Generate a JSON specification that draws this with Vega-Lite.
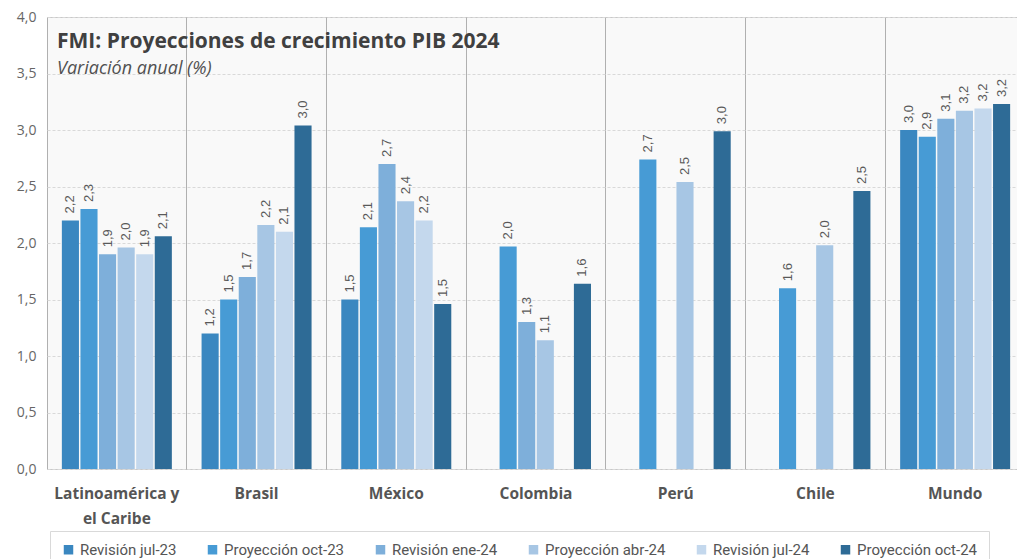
{
  "$schema": "https://vega.github.io/schema/vega-lite/v6.json",
  "width": 978,
  "height": 452,
  "autosize": {"type": "none"},
  "padding": {"left": 47, "top": 17, "right": -8, "bottom": 90},
  "background": "white",
  "title": {
    "text": "FMI: Proyecciones de crecimiento PIB 2024",
    "subtitle": "Variación anual (%)",
    "anchor": "start",
    "frame": "group",
    "orient": "top",
    "offset": -68,
    "dx": 10,
    "font": "Open Sans",
    "fontSize": 21,
    "fontWeight": "bold",
    "color": "#404040",
    "subtitleFont": "Open Sans",
    "subtitleFontSize": 18,
    "subtitleFontStyle": "italic",
    "subtitleColor": "#505050",
    "subtitlePadding": 8
  },
  "config": {
    "locale": {"number": {"decimal": ",", "thousands": ".", "grouping": [3], "currency": ["", " €"]}},
    "view": {"stroke": "#c8c8c8", "fill": "#f9f9f9"}
  },
  "data": {
    "values": [
      {"region": "Latinoamérica y el Caribe", "serie": "Revisión jul-23", "valor": 2.2},
      {"region": "Latinoamérica y el Caribe", "serie": "Proyección oct-23", "valor": 2.3},
      {"region": "Latinoamérica y el Caribe", "serie": "Revisión ene-24", "valor": 1.9},
      {"region": "Latinoamérica y el Caribe", "serie": "Proyección abr-24", "valor": 1.96},
      {"region": "Latinoamérica y el Caribe", "serie": "Revisión jul-24", "valor": 1.9},
      {"region": "Latinoamérica y el Caribe", "serie": "Proyección oct-24", "valor": 2.06},
      {"region": "Brasil", "serie": "Revisión jul-23", "valor": 1.2},
      {"region": "Brasil", "serie": "Proyección oct-23", "valor": 1.5},
      {"region": "Brasil", "serie": "Revisión ene-24", "valor": 1.7},
      {"region": "Brasil", "serie": "Proyección abr-24", "valor": 2.16},
      {"region": "Brasil", "serie": "Revisión jul-24", "valor": 2.1},
      {"region": "Brasil", "serie": "Proyección oct-24", "valor": 3.04},
      {"region": "México", "serie": "Revisión jul-23", "valor": 1.5},
      {"region": "México", "serie": "Proyección oct-23", "valor": 2.14},
      {"region": "México", "serie": "Revisión ene-24", "valor": 2.7},
      {"region": "México", "serie": "Proyección abr-24", "valor": 2.37},
      {"region": "México", "serie": "Revisión jul-24", "valor": 2.2},
      {"region": "México", "serie": "Proyección oct-24", "valor": 1.46},
      {"region": "Colombia", "serie": "Proyección oct-23", "valor": 1.97},
      {"region": "Colombia", "serie": "Revisión ene-24", "valor": 1.3},
      {"region": "Colombia", "serie": "Proyección abr-24", "valor": 1.14},
      {"region": "Colombia", "serie": "Proyección oct-24", "valor": 1.64},
      {"region": "Perú", "serie": "Proyección oct-23", "valor": 2.74},
      {"region": "Perú", "serie": "Proyección abr-24", "valor": 2.54},
      {"region": "Perú", "serie": "Proyección oct-24", "valor": 2.99},
      {"region": "Chile", "serie": "Proyección oct-23", "valor": 1.6},
      {"region": "Chile", "serie": "Proyección abr-24", "valor": 1.98},
      {"region": "Chile", "serie": "Proyección oct-24", "valor": 2.46},
      {"region": "Mundo", "serie": "Revisión jul-23", "valor": 3.0},
      {"region": "Mundo", "serie": "Proyección oct-23", "valor": 2.94},
      {"region": "Mundo", "serie": "Revisión ene-24", "valor": 3.1},
      {"region": "Mundo", "serie": "Proyección abr-24", "valor": 3.17},
      {"region": "Mundo", "serie": "Revisión jul-24", "valor": 3.19},
      {"region": "Mundo", "serie": "Proyección oct-24", "valor": 3.23}
    ]
  },
  "encoding": {
    "x": {
      "field": "region",
      "type": "nominal",
      "sort": ["Latinoamérica y el Caribe", "Brasil", "México", "Colombia", "Perú", "Chile", "Mundo"],
      "scale": {"paddingInner": 0, "paddingOuter": 0},
      "axis": {
        "title": null,
        "labelAngle": 0,
        "ticks": false,
        "domain": false,
        "labelPadding": 17,
        "labelFont": "Open Sans",
        "labelFontWeight": "bold",
        "labelFontSize": 15.5,
        "labelColor": "#555555",
        "labelLineHeight": 25,
        "labelBaseline": "top",
        "labelExpr": "datum.value == 'Latinoamérica y el Caribe' ? ['Latinoamérica y', 'el Caribe'] : datum.value",
        "grid": true,
        "gridColor": "#b0b0b0",
        "bandPosition": 0
      }
    },
    "xOffset": {
      "field": "serie",
      "type": "nominal",
      "sort": ["Revisión jul-23", "Proyección oct-23", "Revisión ene-24", "Proyección abr-24", "Revisión jul-24", "Proyección oct-24"],
      "scale": {"paddingInner": 0.08, "paddingOuter": 0.8}
    },
    "y": {
      "field": "valor",
      "type": "quantitative",
      "scale": {"domain": [0, 4]},
      "axis": {
        "title": null,
        "values": [0, 0.5, 1, 1.5, 2, 2.5, 3, 3.5, 4],
        "format": ".1f",
        "labelFont": "Open Sans",
        "labelFontSize": 14,
        "labelColor": "#666666",
        "labelPadding": 11,
        "ticks": false,
        "domain": false,
        "gridColor": "#d9d9d9",
        "gridDash": [3, 2]
      }
    }
  },
  "layer": [
    {
      "mark": {"type": "bar"},
      "encoding": {
        "color": {
          "field": "serie",
          "type": "nominal",
          "sort": ["Revisión jul-23", "Proyección oct-23", "Revisión ene-24", "Proyección abr-24", "Revisión jul-24", "Proyección oct-24"],
          "scale": {
            "domain": ["Revisión jul-23", "Proyección oct-23", "Revisión ene-24", "Proyección abr-24", "Revisión jul-24", "Proyección oct-24"],
            "range": ["#3a87c0", "#479bd5", "#7eafda", "#a7c6e4", "#c4d8ed", "#2e6b96"]
          },
          "legend": {
            "title": null,
            "orient": "none",
            "legendX": 3,
            "legendY": 514,
            "direction": "horizontal",
            "symbolType": "square",
            "symbolSize": 90,
            "symbolStrokeWidth": 0,
            "labelFont": "Roboto",
            "labelFontSize": 15,
            "labelColor": "#555555",
            "labelLimit": 300,
            "labelOffset": 4,
            "columnPadding": 28,
            "padding": 11,
            "strokeColor": "#d9d9d9",
            "fillColor": "white"
          }
        }
      }
    },
    {
      "mark": {"type": "text", "angle": -90, "align": "left", "baseline": "middle", "dx": 7, "font": "Liberation Sans", "fontSize": 13, "color": "#595959"},
      "encoding": {
        "text": {"field": "valor", "type": "quantitative", "format": ".1f"}
      }
    }
  ]
}
